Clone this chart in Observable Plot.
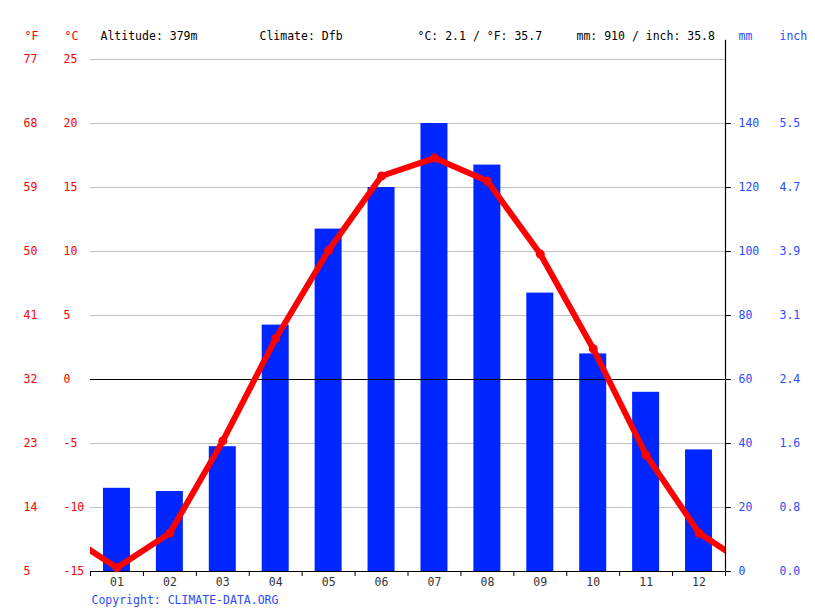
<!DOCTYPE html>
<html><head><meta charset="utf-8">
<script src="https://cdn.jsdelivr.net/npm/d3@7"></script>
<script src="https://cdn.jsdelivr.net/npm/@observablehq/plot@0.6"></script>
<style>body{margin:0;background:#fff}</style>
</head><body><div id="chart"></div>
<script>
const months = ["01","02","03","04","05","06","07","08","09","10","11","12"];
const precipMm = [26,25,39,77,107,120,140,127,87,68,56,38];
const tempC = [-14.7,-12.0,-4.8,3.2,10.1,15.9,17.3,15.5,9.8,2.4,-5.9,-12.0];
const cTicks = [-15,-10,-5,0,5,10,15,20,25];
const fLabels = ["5","14","23","32","41","50","59","68","77"];
const mmTicks = [0,20,40,60,80,100,120,140];
const inchLabels = ["0.0","0.8","1.6","2.4","3.1","3.9","4.7","5.5"];
const headerBlack = ["Altitude: 379m","Climate: Dfb","°C: 2.1 / °F: 35.7","mm: 910 / inch: 35.8"];
const headerRed = ["°F","°C"];
const headerBlue = ["mm","inch"];
const copyright = "Copyright: CLIMATE-DATA.ORG";

const RED = "#ff0000", BLUE = "#0026ff", LBLUE = "#2a4bff";
const FONT = "DejaVu Sans Mono";
const mmToC = mm => mm / 4 - 15;

const bars = months.map((m, i) => ({x: i + 1, mm: precipMm[i]}));
const tpts = months.map((m, i) => ({x: i + 1, t: tempC[i]}));
const wrap = [{x: 0, t: tempC[11]}, ...tpts, {x: 13, t: tempC[0]}];

const headerX = [10, 169, 327, 486];
const redX = [-66, -26];
const blueX = [648, 689];

const hdr = (texts, xs, fill) => texts.map((s, i) => Plot.text([s], {
  frameAnchor: "top-left", dx: xs[i], dy: -23, textAnchor: "start", lineAnchor: "middle",
  fill, fontSize: 11.5, fontFamily: FONT
}));

const chart = Plot.plot({
  width: 815, height: 611,
  marginLeft: 90, marginRight: 90, marginTop: 59, marginBottom: 40,
  style: {fontFamily: FONT, fontSize: "11.5px", background: "#fff", overflow: "visible"},
  x: {domain: [0.5, 12.5], axis: null},
  y: {domain: [-15, 25], axis: null},
  marks: [
    Plot.ruleY(cTicks.filter(d => d !== 0 && d !== -15), {stroke: "#c4c4c4", strokeWidth: 1}),
    Plot.rectY(bars, {x1: d => d.x - 0.255, x2: d => d.x + 0.255, y1: -15, y2: d => mmToC(d.mm), fill: BLUE}),
    Plot.ruleY([0], {stroke: "#000", strokeWidth: 1.2}),
    Plot.ruleY([-15], {stroke: "#000", strokeWidth: 1.2}),
    Plot.line(wrap, {x: "x", y: "t", stroke: RED, strokeWidth: 6, clip: true, strokeLinejoin: "round"}),
    Plot.dot(tpts, {x: "x", y: "t", r: 4.5, fill: RED}),
    Plot.ruleX([12.5], {y1: -15, y2: 26.5, stroke: "#000", strokeWidth: 1.2, clip: false}),
    // bottom axis
    Plot.axisX({ticks: d3.range(1, 13), tickSize: 0, tickPadding: 6, tickFormat: d => months[d - 1], fill: "#333", label: null}),
    Plot.axisX({ticks: d3.range(0.5, 13, 1), tickSize: 5, tickFormat: () => "", label: null, stroke: "#000"}),
    // left axes
    Plot.axisY({ticks: cTicks, anchor: "left", tickSize: 0, tickPadding: 27, textAnchor: "start", fill: RED, label: null,
      tickFormat: d => String(d)}),
    Plot.axisY({ticks: cTicks, anchor: "left", tickSize: 0, tickPadding: 67, textAnchor: "start", fill: RED, label: null,
      tickFormat: d => fLabels[cTicks.indexOf(d)]}),
    // right axes
    Plot.axisY({ticks: mmTicks.map(mmToC), anchor: "right", tickSize: 5, tickPadding: 8, textAnchor: "start", fill: LBLUE, label: null,
      stroke: "#000", tickFormat: d => String(mmTicks[mmTicks.map(mmToC).indexOf(d)])}),
    Plot.axisY({ticks: mmTicks.map(mmToC), anchor: "right", tickSize: 0, tickPadding: 54, textAnchor: "start", fill: LBLUE, label: null,
      tickFormat: d => inchLabels[mmTicks.map(mmToC).indexOf(d)]}),
    ...hdr(headerBlack, headerX, "#000"),
    ...hdr(headerRed, redX, RED),
    ...hdr(headerBlue, blueX, LBLUE),
    Plot.text([copyright], {frameAnchor: "top-left", dx: 1, dy: 541, textAnchor: "start", lineAnchor: "middle",
      fill: LBLUE, fontSize: 11.5, fontFamily: FONT})
  ]
});
document.getElementById("chart").appendChild(chart);
</script>
</body></html>
